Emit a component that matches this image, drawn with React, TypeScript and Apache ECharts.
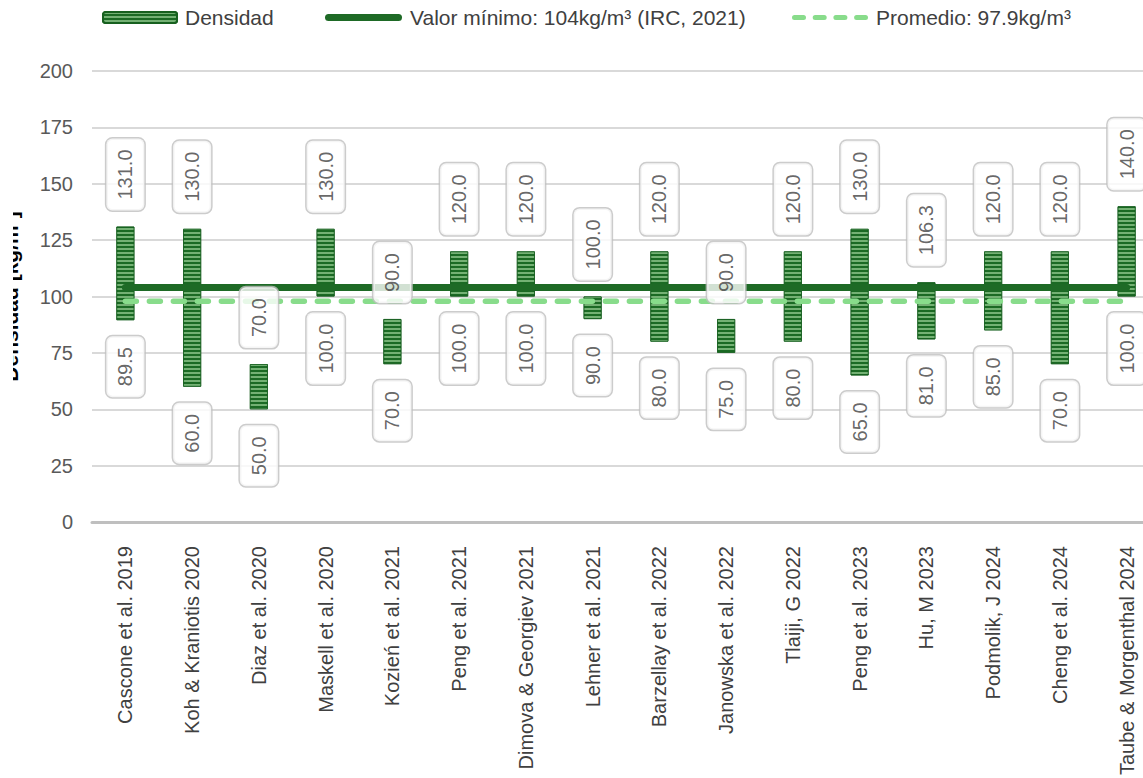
import React, { useEffect, useRef } from "react";
import * as echarts from "echarts";

const categories = [
  "Cascone et al. 2019",
  "Koh & Kraniotis 2020",
  "Diaz et al. 2020",
  "Maskell et al. 2020",
  "Kozień et al. 2021",
  "Peng et al. 2021",
  "Dimova & Georgiev 2021",
  "Lehner et al. 2021",
  "Barzellay et al. 2022",
  "Janowska et al. 2022",
  "Tlaiji, G 2022",
  "Peng et al. 2023",
  "Hu, M 2023",
  "Podmolik, J 2024",
  "Cheng et al. 2024",
  "Taube & Morgenthal 2024",
];

const minValues = [89.5, 60, 50, 100, 70, 100, 100, 90, 80, 75, 80, 65, 81, 85, 70, 100];
const maxValues = [131, 130, 70, 130, 90, 120, 120, 100, 120, 90, 120, 130, 106.3, 120, 120, 140];

const requiredMin = 104;
const averageValue = 97.9;

const yTicks = { min: 0, max: 200, interval: 25 };

const seriesNames = {
  bar: "Densidad",
  req: "Valor mínimo: 104kg/m³ (IRC, 2021)",
  avg: "Promedio: 97.9kg/m³",
};

const FONT = "'Liberation Sans', Arial, sans-serif";

const solidIcon =
  "path://M3.5,0 H73.5 A3.5,3.5 0 0 1 73.5,7 H3.5 A3.5,3.5 0 0 1 3.5,0 Z";
const dashedIcon =
  "path://M2.5,0 H11.5 A2.5,2.5 0 0 1 11.5,5 H2.5 A2.5,2.5 0 0 1 2.5,0 Z " +
  "M23.2,0 H32.2 A2.5,2.5 0 0 1 32.2,5 H23.2 A2.5,2.5 0 0 1 23.2,0 Z " +
  "M43.9,0 H52.9 A2.5,2.5 0 0 1 52.9,5 H43.9 A2.5,2.5 0 0 1 43.9,0 Z " +
  "M64.6,0 H73.5 A2.5,2.5 0 0 1 73.5,5 H64.6 A2.5,2.5 0 0 1 64.6,0 Z";

export default function App() {
  const ref = useRef<HTMLDivElement>(null);

  useEffect(() => {
    if (!ref.current) return;
    const chart = echarts.init(ref.current, null, { renderer: "svg" });

    const rangeValues = maxValues.map((v, i) => +(v - minValues[i]).toFixed(2));
    const reqLine = categories.map(() => requiredMin);
    const avgLine = categories.map(() => averageValue);

    const boxLabel = {
      show: true,
      rotate: 90,
      verticalAlign: "middle",
      distance: 16,
      fontSize: 20,
      fontFamily: FONT,
      color: "#404040",
      backgroundColor: "#ffffff",
      borderColor: "#bfbfbf",
      borderWidth: 1.5,
      borderRadius: 6,
      padding: [9, 11],
      formatter: (p: any) => Number(p.value).toFixed(1),
    };

    const legendBase = {
      top: 7,
      padding: 0,
      itemGap: 0,
      textStyle: {
        fontSize: 21,
        fontFamily: FONT,
        color: "#404040",
        lineHeight: 21,
        padding: [0, 0, 0, 3],
      },
    };

    chart.setOption({
      animation: false,
      legend: [
        { ...legendBase, left: 102, itemWidth: 74, itemHeight: 11, data: [seriesNames.bar] },
        {
          ...legendBase,
          left: 325,
          itemWidth: 77,
          itemHeight: 7,
          data: [{ name: seriesNames.req, icon: solidIcon }],
        },
        {
          ...legendBase,
          left: 792,
          itemWidth: 76,
          itemHeight: 5,
          data: [{ name: seriesNames.avg, icon: dashedIcon }],
        },
      ],
      grid: {
        left: 92,
        right: 20,
        top: 71,
        bottom: 256,
        containLabel: false,
        outerBoundsMode: "none",
      },
      xAxis: {
        type: "category",
        data: categories,
        axisLine: { show: true, lineStyle: { color: "#bfbfbf", width: 3 } },
        axisTick: { show: false },
        axisLabel: {
          rotate: 90,
          interval: 0,
          margin: 24,
          fontSize: 20,
          fontFamily: FONT,
          color: "#404040",
        },
      },
      yAxis: {
        type: "value",
        min: yTicks.min,
        max: yTicks.max,
        interval: yTicks.interval,
        name: "Densidad [kg/m³]",
        nameLocation: "middle",
        nameGap: 71,
        nameTextStyle: {
          fontSize: 21,
          fontWeight: "bold",
          fontFamily: FONT,
          color: "#000000",
        },
        axisLine: { show: false },
        axisTick: { show: false },
        axisLabel: {
          margin: 19,
          fontSize: 20,
          fontFamily: FONT,
          color: "#595959",
        },
        splitLine: { lineStyle: { color: "#d9d9d9", width: 2 } },
      },
      graphic: [
        {
          type: "rect",
          x: 0,
          y: 180,
          shape: { width: 13, height: 240 },
          style: { fill: "#ffffff" },
          z: 100,
        },
      ],
      series: [
        {
          name: "base",
          type: "bar",
          stack: "range",
          data: minValues,
          barWidth: 18,
          itemStyle: { color: "transparent" },
          emphasis: { disabled: true },
          z: 2,
        },
        {
          name: seriesNames.bar,
          type: "bar",
          stack: "range",
          data: rangeValues,
          barWidth: 18,
          itemStyle: {
            color: "#1b6a24",
            borderColor: "#17601f",
            borderWidth: 0.8,
            decal: {
              symbol: "rect",
              symbolSize: 1,
              dashArrayX: [1, 0],
              dashArrayY: [1.5, 1.5],
              color: "rgba(175, 225, 170, 0.6)",
              rotation: 0,
            },
          },
          z: 2,
        },
        {
          name: seriesNames.req,
          type: "line",
          data: reqLine,
          symbol: "none",
          lineStyle: { color: "#1e6a26", width: 7, cap: "round" },
          itemStyle: { color: "#1e6a26" },
          z: 3,
        },
        {
          name: seriesNames.avg,
          type: "line",
          data: avgLine,
          symbol: "none",
          lineStyle: { color: "#88dc8b", width: 5.5, type: [11, 13], cap: "round" },
          itemStyle: { color: "#88dc8b" },
          z: 3,
        },
        {
          name: "maxLabels",
          type: "scatter",
          data: maxValues,
          symbolSize: 0.1,
          itemStyle: { color: "transparent" },
          label: { ...boxLabel, position: "top", align: "left" },
          z: 5,
        },
        {
          name: "minLabels",
          type: "scatter",
          data: minValues,
          symbolSize: 0.1,
          itemStyle: { color: "transparent" },
          label: { ...boxLabel, position: "bottom", align: "right" },
          z: 5,
        },
      ],
    });

    return () => chart.dispose();
  }, []);

  return (
    <div
      style={{
        position: "fixed",
        left: 0,
        top: 0,
        width: 1143,
        height: 778,
        overflow: "hidden",
        background: "#ffffff",
      }}
    >
      <div ref={ref} style={{ width: 1180, height: 778 }} />
    </div>
  );
}
